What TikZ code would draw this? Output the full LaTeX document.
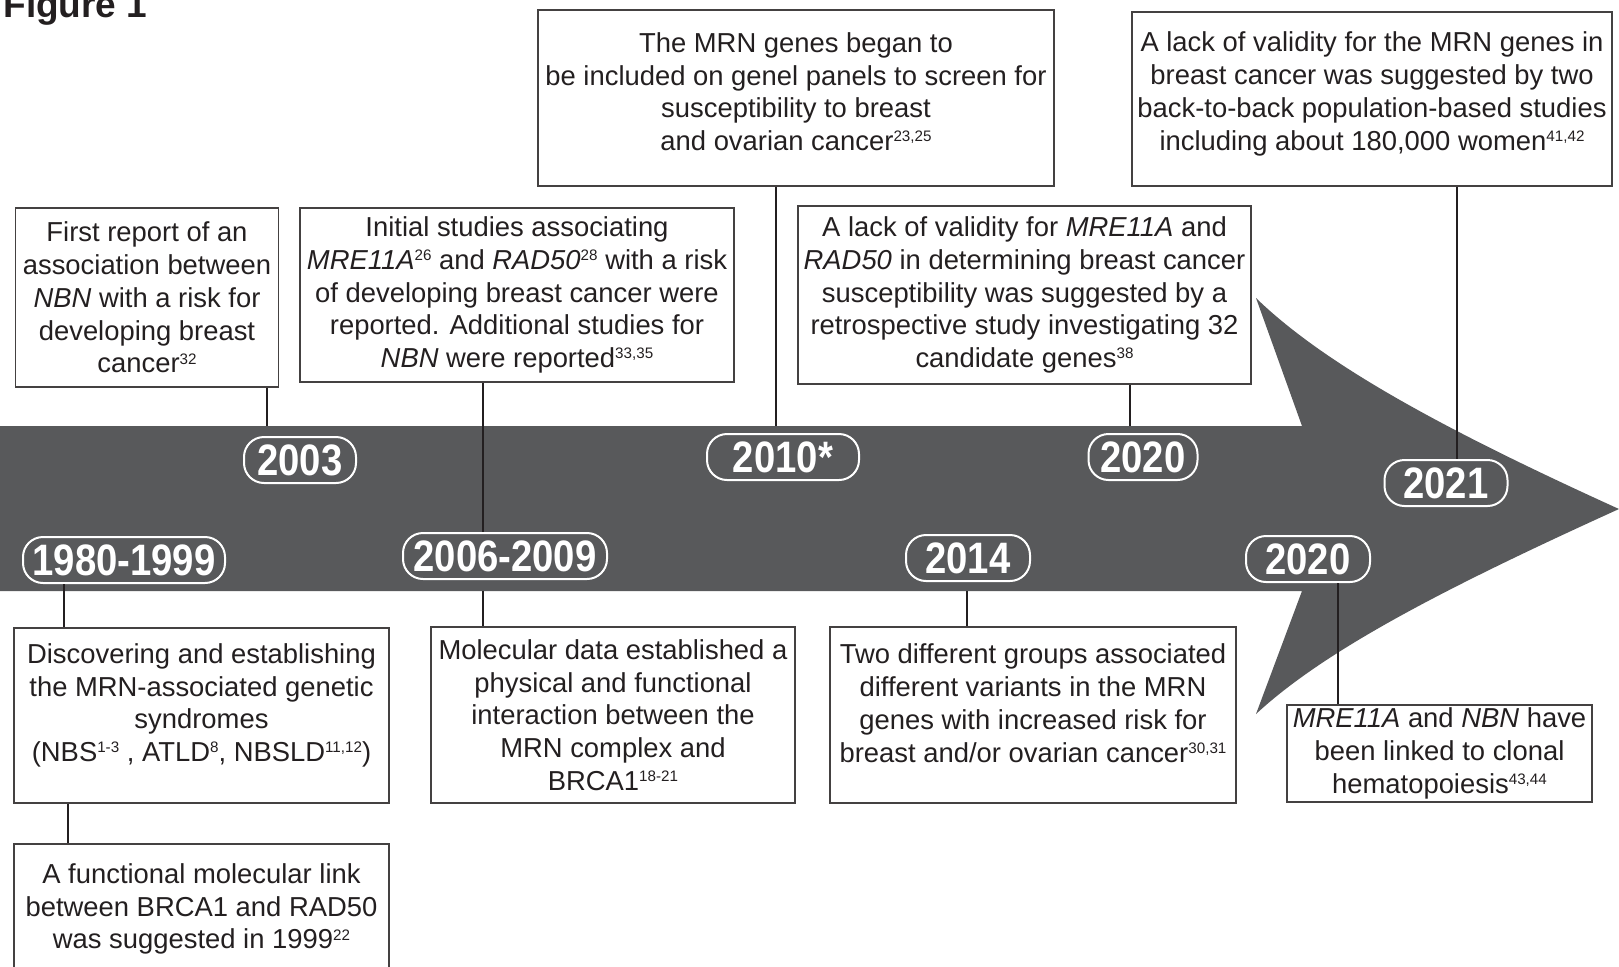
\documentclass[tikz,border=0pt]{standalone}
\usepackage{fontspec}
\setmainfont{Liberation Sans}
\newfontfamily\yearfont[FakeStretch=0.87]{Liberation Sans}
\definecolor{band}{HTML}{58595B}
\definecolor{ink}{HTML}{231F20}
% reference numbers and a strut that lifts the text in a box
\newcommand\refnum[1]{\raisebox{4.4pt}{\fontsize{7.6}{8}\selectfont#1}}
\newcommand\lift[1]{\rule[-#1]{0pt}{0pt}}

\tikzset{
  event/.style={draw=ink!85, line width=0.75pt, align=center, text=ink, inner sep=0pt,
    font=\fontsize{13.7}{16.4}\selectfont},
  year/.style={draw=white, line width=1pt, rounded corners=10pt, minimum height=23pt,
    inner sep=0pt, text=white, font=\yearfont\bfseries\fontsize{22}{22}\selectfont},
  link/.style={draw=ink, line width=0.6pt}
}

\begin{document}
\begin{tikzpicture}[x=0.5pt,y=-0.5pt]
  \useasboundingbox (0,0) rectangle (1619,966);
  \node[anchor=base west, inner sep=0pt, text=ink, font=\bfseries\fontsize{18.5}{20}\selectfont] (title) at (3,17) {Figure 1};

  % the arrow
  \fill[band] (0,426) -- (1302,426) -- (1256,298)
    .. controls (1325,365) and (1445,430) .. (1619,509)
    .. controls (1445,588) and (1325,650) .. (1256,714)
    -- (1302,591) -- (0,591) -- cycle;
  \coordinate (bandtop) at (0,426);
  \coordinate (bandbot) at (0,591);

  \node[year, minimum width=101pt] (p1980) at (124,560) {1980-1999};
  \node[year, minimum width=56pt] (p2003) at (300,460) {2003};
  \node[year, minimum width=102pt] (p2006) at (505,556) {2006-2009};
  \node[year, minimum width=76pt] (p2010) at (783,457) {2010*};
  \node[year, minimum width=62pt] (p2014) at (968,558) {2014};
  \node[year, minimum width=54.5pt] (p2020a) at (1143,457) {2020};
  \node[year, minimum width=62pt] (p2020b) at (1308,559) {2020};
  \node[year, minimum width=61.5pt] (p2021) at (1446,483) {2021};

  % above the arrow
  \node[event, minimum width=131.5pt, minimum height=89.5pt] (first) at (147,297.5)
    {First report of an\\association between\\\textit{NBN} with a risk for\\developing breast\\cancer\refnum{32}};
  \node[event, minimum width=217pt, minimum height=87pt] (initial) at (517,295)
    {Initial studies associating\\\textit{MRE11A}\refnum{26} and \textit{RAD50}\refnum{28} with a risk\\of developing breast cancer were\\reported. Additional studies for\\\textit{NBN} were reported\refnum{33,35}};
  \node[event, minimum width=258pt, minimum height=88pt] (genes) at (796,98)
    {The MRN genes began to\\be included on genel panels to screen for\\susceptibility to breast\\and ovarian cancer\refnum{23,25}\lift{6.4pt}};
  \node[event, minimum width=226.5pt, minimum height=89pt] (lackmre) at (1024.5,295)
    {A lack of validity for \textit{MRE11A} and\\\textit{RAD50} in determining breast cancer\\susceptibility was suggested by a\\retrospective study investigating 32\\candidate genes\refnum{38}};
  \node[event, minimum width=240pt, minimum height=87pt] (lackmrn) at (1372,99)
    {A lack of validity for the MRN genes in\\breast cancer was suggested by two\\back-to-back population-based studies\\including about 180,000 women\refnum{41,42}\lift{8pt}};

  % below the arrow
  \node[event, minimum width=187.5pt, minimum height=87.5pt] (discover) at (201.5,715.5)
    {Discovering and establishing\\the MRN-associated genetic\\syndromes\\ (NBS\refnum{1-3} , ATLD\refnum{8}, NBSLD\refnum{11,12})\lift{13pt}};
  \node[event, minimum width=187.5pt, minimum height=65pt] (functional) at (201.5,909)
    {A functional molecular link\\between BRCA1 and RAD50\\was suggested in 1999\refnum{22}};
  \node[event, minimum width=182pt, minimum height=88pt] (molecular) at (613,715)
    {Molecular data established a\\physical and functional\\interaction between the\\MRN complex and\\BRCA1\refnum{18-21}};
  \node[event, minimum width=203pt, minimum height=88pt] (twogroups) at (1033,715)
    {Two different groups associated\\different variants in the MRN\\genes with increased risk for\\breast and/or ovarian cancer\refnum{30,31}\lift{12pt}};
  \node[event, minimum width=152.5pt, minimum height=48.5pt] (clonal) at (1439.5,753.5)
    {\textit{MRE11A} and \textit{NBN} have\\been linked to clonal\\hematopoiesis\refnum{43,44}};

  % connectors
  \draw[link] (first.south -| 267,0) -- (bandtop -| 267,0);
  \draw[link] (initial.south -| 483,0) -- (p2006.north -| 483,0);
  \draw[link] (genes.south -| 776,0) -- (bandtop -| 776,0);
  \draw[link] (lackmre.south -| 1130,0) -- (bandtop -| 1130,0);
  \draw[link] (lackmrn.south -| 1457,0) -- (p2021.north -| 1457,0);
  \draw[link] (p1980.south -| 64,0) -- (discover.north -| 64,0);
  \draw[link] (discover.south -| 68,0) -- (functional.north -| 68,0);
  \draw[link] (bandbot -| 483,0) -- (molecular.north -| 483,0);
  \draw[link] (bandbot -| 967,0) -- (twogroups.north -| 967,0);
  \draw[link] (p2020b.south -| 1338,0) -- (clonal.north -| 1338,0);
\end{tikzpicture}
\end{document}
